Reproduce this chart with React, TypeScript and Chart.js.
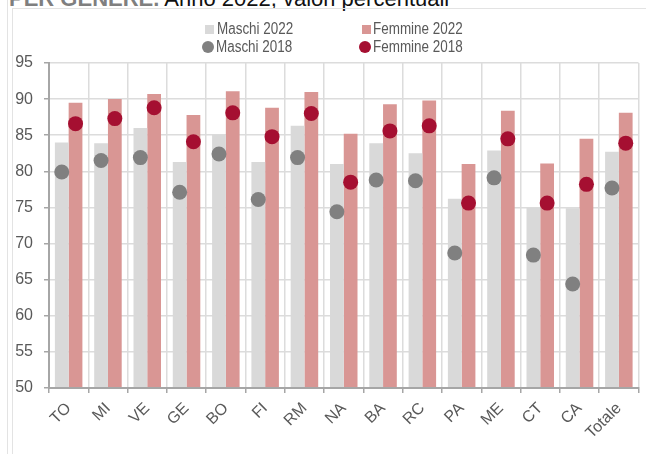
import React, { useEffect, useRef } from "react";
import { Chart, registerables } from "chart.js";

Chart.register(...registerables);

// ---- data ----
const categories = ["TO", "MI", "VE", "GE", "BO", "FI", "RM", "NA", "BA", "RC", "PA", "ME", "CT", "CA", "Totale"];
const maschi2022 = [84.0, 83.9, 86.0, 81.3, 85.1, 81.3, 86.3, 81.0, 83.9, 82.5, 76.2, 82.9, 75.0, 74.9, 82.7];
const femmine2022 = [89.5, 90.0, 90.7, 87.8, 91.1, 88.8, 91.0, 85.2, 89.3, 89.8, 81.0, 88.4, 81.1, 84.5, 88.1];
const maschi2018 = [79.9, 81.5, 81.9, 77.1, 82.4, 76.1, 81.9, 74.4, 78.8, 78.7, 68.7, 79.1, 68.4, 64.4, 77.7];
const femmine2018 = [86.6, 87.3, 88.8, 84.1, 88.1, 84.8, 88.0, 78.5, 85.6, 86.3, 75.6, 84.5, 75.6, 78.2, 83.9];
const yMin = 50;
const yMax = 95;
const yStep = 5;
const seriesLabels = ["Maschi 2022", "Femmine 2022", "Maschi 2018", "Femmine 2018"];
const titleBold = "PER GENERE.";
const titleRest = " Anno 2022, valori percentuali";

// ---- styles ----
const C_M22 = "#d9d9d9";
const C_F22 = "#d99694";
const C_M18 = "#808080";
const C_F18 = "#a50f31";
const TXT = "#595959";
const GRID = "#dcdcdc";
const AXIS = "#a6a6a6";
const FONT = '"Liberation Sans", Arial, sans-serif';

// each 2018 dot sits on the bar of the same sex (dot dataset index -> bar dataset index)
const dotOnBar: [number, number][] = [
  [2, 0],
  [3, 1],
];

const alignDots = {
  id: "alignDots",
  afterDatasetsUpdate(chart: any) {
    for (const [d, b] of dotOnBar) {
      const dm = chart.getDatasetMeta(d);
      const bm = chart.getDatasetMeta(b);
      dm.data.forEach((pt: any, i: number) => {
        if (bm.data[i]) pt.x = bm.data[i].x;
      });
    }
  },
};

export default function App() {
  const ref = useRef<HTMLCanvasElement>(null);

  useEffect(() => {
    const ctx = ref.current!;
    const dot = (label: string, data: number[], color: string) =>
      ({
        type: "line",
        label,
        data,
        showLine: false,
        pointRadius: 7.5,
        pointHoverRadius: 7.5,
        pointBorderWidth: 0,
        pointBackgroundColor: color,
        backgroundColor: color,
        borderColor: color,
        order: 1,
      }) as any;
    const chart = new Chart(ctx, {
      type: "bar",
      data: {
        labels: categories,
        datasets: [
          {
            type: "bar",
            label: seriesLabels[0],
            data: maschi2022,
            backgroundColor: C_M22,
            categoryPercentage: 0.7,
            barPercentage: 1,
            order: 2,
          },
          {
            type: "bar",
            label: seriesLabels[1],
            data: femmine2022,
            backgroundColor: C_F22,
            categoryPercentage: 0.7,
            barPercentage: 1,
            order: 2,
          },
          dot(seriesLabels[2], maschi2018, C_M18),
          dot(seriesLabels[3], femmine2018, C_F18),
        ],
      },
      plugins: [alignDots],
      options: {
        animation: false,
        responsive: false,
        maintainAspectRatio: false,
        devicePixelRatio: 1,
        layout: { padding: { top: 63, right: 1, left: 0, bottom: 0 } },
        plugins: {
          legend: { display: false },
          title: { display: false },
          tooltip: { enabled: false },
        },
        scales: {
          x: {
            type: "category",
            offset: true,
            grid: {
              offset: true,
              color: GRID,
              lineWidth: 1.5,
              drawTicks: true,
              tickLength: 5,
              tickColor: AXIS,
              tickWidth: 1.5,
            },
            border: { color: AXIS, width: 2, z: 1 },
            ticks: {
              minRotation: 45,
              maxRotation: 45,
              autoSkip: false,
              color: TXT,
              padding: 6,
              font: { family: FONT, size: 16 },
            },
            afterFit: (s: any) => {
              s.height = 66;
            },
          },
          y: {
            type: "linear",
            min: yMin,
            max: yMax,
            ticks: {
              stepSize: yStep,
              color: TXT,
              padding: 11,
              font: { family: FONT, size: 16 },
            },
            grid: {
              color: GRID,
              lineWidth: 1.5,
              tickLength: 5,
              tickColor: AXIS,
              tickWidth: 1.5,
            },
            border: { color: AXIS, width: 2 },
            afterFit: (s: any) => {
              s.width = 49;
            },
          },
        },
      } as any,
    });
    return () => chart.destroy();
  }, []);

  const legendText: React.CSSProperties = {
    position: "absolute",
    fontFamily: FONT,
    fontSize: 16,
    lineHeight: "18px",
    color: TXT,
    whiteSpace: "nowrap",
    transform: "scaleX(0.84)",
    transformOrigin: "0 50%",
  };

  return (
    <div
      style={{
        position: "fixed",
        left: 0,
        top: 0,
        width: 646,
        height: 454,
        overflow: "hidden",
        background: "#fff",
      }}
    >
      {/* title (cut off at the top as in the reference) */}
      <div
        style={{
          position: "absolute",
          left: 9,
          top: -12,
          fontFamily: FONT,
          fontSize: 22,
          lineHeight: "22px",
          whiteSpace: "nowrap",
          color: "#111",
        }}
      >
        <span style={{ fontWeight: "bold", color: "#7f7f7f" }}>{titleBold}</span>
        <span>{titleRest}</span>
      </div>
      {/* frame lines */}
      <div style={{ position: "absolute", left: 7, top: 0, width: 1, height: 454, background: "#e3e3e3" }} />
      <div style={{ position: "absolute", left: 12, top: 8, width: 1, height: 446, background: "#e3e3e3" }} />
      <div style={{ position: "absolute", left: 12, top: 8, width: 634, height: 1, background: "#e3e3e3" }} />

      <canvas
        ref={ref}
        width={646}
        height={454}
        style={{ position: "absolute", left: 0, top: 0, width: 646, height: 454 }}
      />

      {/* legend */}
      <div style={{ position: "absolute", left: 205, top: 25, width: 9, height: 9, background: C_M22 }} />
      <div style={{ ...legendText, left: 217, top: 20 }}>{seriesLabels[0]}</div>
      <div style={{ position: "absolute", left: 362, top: 25, width: 9, height: 9, background: C_F22 }} />
      <div style={{ ...legendText, left: 373, top: 20 }}>{seriesLabels[1]}</div>
      <div
        style={{ position: "absolute", left: 202, top: 41, width: 12, height: 12, borderRadius: 6, background: C_M18 }}
      />
      <div style={{ ...legendText, left: 216, top: 38 }}>{seriesLabels[2]}</div>
      <div
        style={{ position: "absolute", left: 359, top: 41, width: 12, height: 12, borderRadius: 6, background: C_F18 }}
      />
      <div style={{ ...legendText, left: 373, top: 38 }}>{seriesLabels[3]}</div>
    </div>
  );
}
